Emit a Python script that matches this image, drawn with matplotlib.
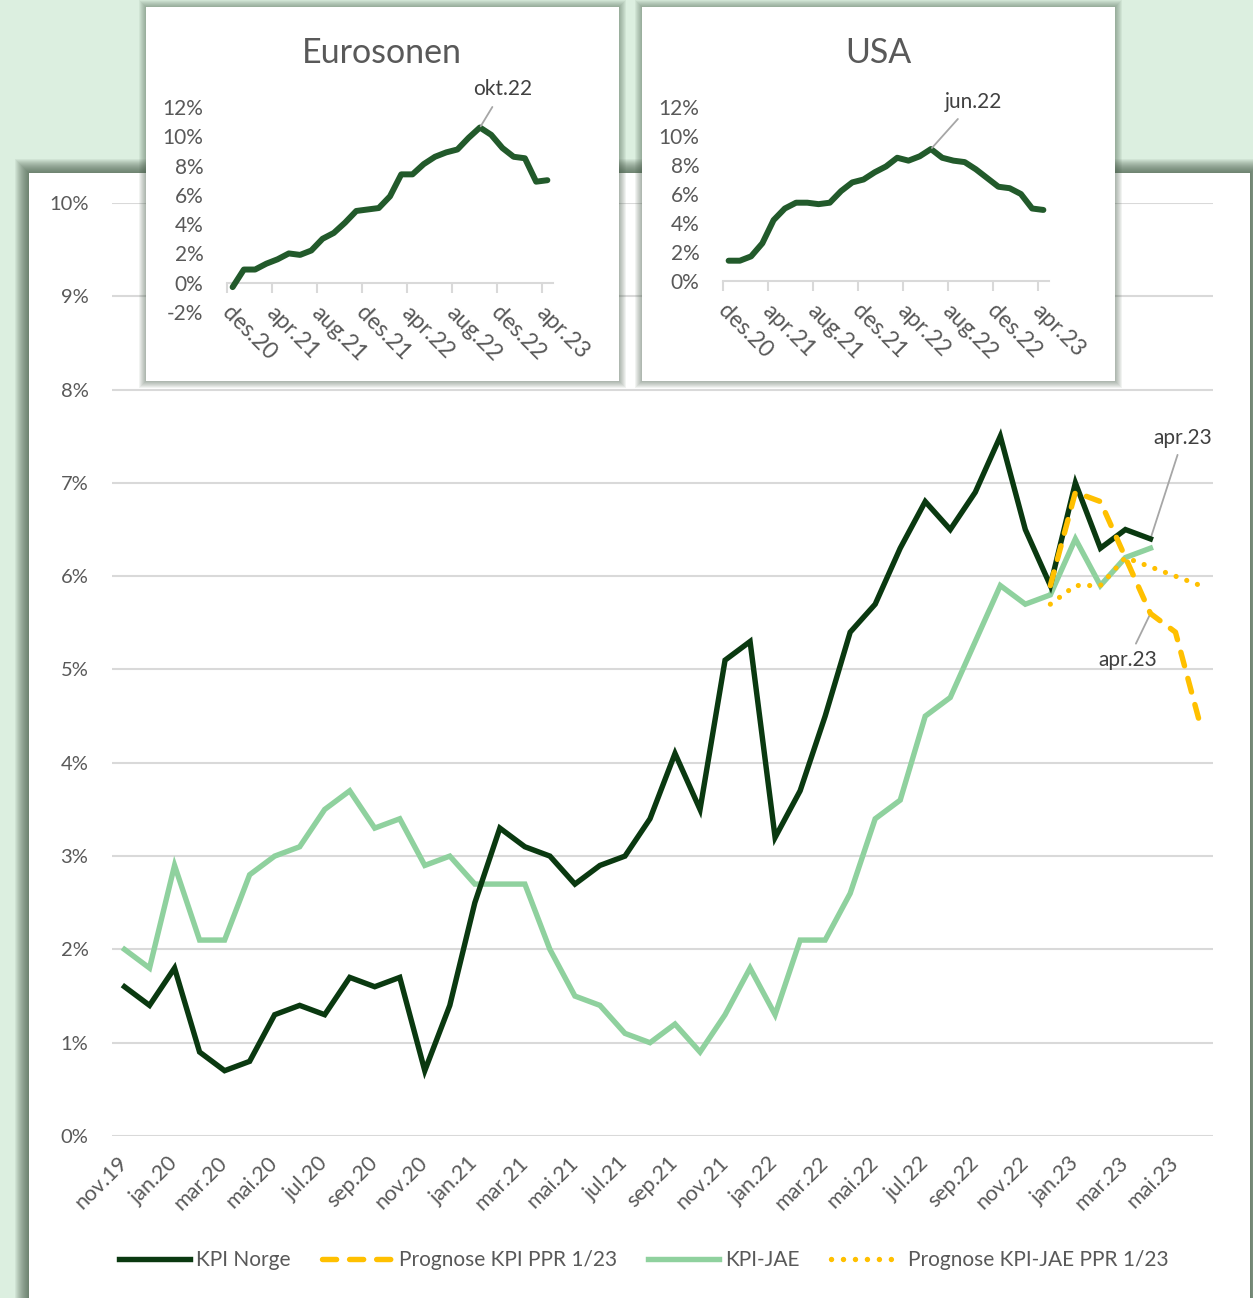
import matplotlib
matplotlib.use('Agg')
import matplotlib.pyplot as plt
from matplotlib.patches import Rectangle
from matplotlib.lines import Line2D

plt.rcParams['font.family'] = ['Lato', 'DejaVu Sans']

# ---------------- data ----------------
months = ['nov.19', 'des.19', 'jan.20', 'feb.20', 'mar.20', 'apr.20', 'mai.20', 'jun.20',
          'jul.20', 'aug.20', 'sep.20', 'okt.20', 'nov.20', 'des.20', 'jan.21', 'feb.21',
          'mar.21', 'apr.21', 'mai.21', 'jun.21', 'jul.21', 'aug.21', 'sep.21', 'okt.21',
          'nov.21', 'des.21', 'jan.22', 'feb.22', 'mar.22', 'apr.22', 'mai.22', 'jun.22',
          'jul.22', 'aug.22', 'sep.22', 'okt.22', 'nov.22', 'des.22', 'jan.23', 'feb.23',
          'mar.23', 'apr.23', 'mai.23', 'jun.23']

kpi_norge = [1.6, 1.4, 1.8, 0.9, 0.7, 0.8, 1.3, 1.4, 1.3, 1.7, 1.6, 1.7, 0.7, 1.4,
             2.5, 3.3, 3.1, 3.0, 2.7, 2.9, 3.0, 3.4, 4.1, 3.5, 5.1, 5.3, 3.2, 3.7,
             4.5, 5.4, 5.7, 6.3, 6.8, 6.5, 6.9, 7.5, 6.5, 5.9, 7.0, 6.3, 6.5, 6.4]

kpi_jae = [2.0, 1.8, 2.9, 2.1, 2.1, 2.8, 3.0, 3.1, 3.5, 3.7, 3.3, 3.4, 2.9, 3.0,
           2.7, 2.7, 2.7, 2.0, 1.5, 1.4, 1.1, 1.0, 1.2, 0.9, 1.3, 1.8, 1.3, 2.1,
           2.1, 2.6, 3.4, 3.6, 4.5, 4.7, 5.3, 5.9, 5.7, 5.8, 6.4, 5.9, 6.2, 6.3]

forecast_months = ['des.22', 'jan.23', 'feb.23', 'mar.23', 'apr.23', 'mai.23', 'jun.23']
prognose_kpi = [5.9, 6.9, 6.8, 6.2, 5.6, 5.4, 4.4]
prognose_jae = [5.7, 5.9, 5.9, 6.2, 6.1, 6.0, 5.9]

inset_months = ['des.20', 'jan.21', 'feb.21', 'mar.21', 'apr.21', 'mai.21', 'jun.21',
                'jul.21', 'aug.21', 'sep.21', 'okt.21', 'nov.21', 'des.21', 'jan.22',
                'feb.22', 'mar.22', 'apr.22', 'mai.22', 'jun.22', 'jul.22', 'aug.22',
                'sep.22', 'okt.22', 'nov.22', 'des.22', 'jan.23', 'feb.23', 'mar.23',
                'apr.23']
eurosonen = [-0.3, 0.9, 0.9, 1.3, 1.6, 2.0, 1.9, 2.2, 3.0, 3.4, 4.1, 4.9, 5.0, 5.1,
             5.9, 7.4, 7.4, 8.1, 8.6, 8.9, 9.1, 9.9, 10.6, 10.1, 9.2, 8.6, 8.5, 6.9, 7.0]
usa = [1.4, 1.4, 1.7, 2.6, 4.2, 5.0, 5.4, 5.4, 5.3, 5.4, 6.2, 6.8, 7.0, 7.5,
       7.9, 8.5, 8.3, 8.6, 9.1, 8.5, 8.3, 8.2, 7.7, 7.1, 6.5, 6.4, 6.0, 5.0, 4.9]

main_yticks = [0, 1, 2, 3, 4, 5, 6, 7, 8, 9, 10]
euro_yticks = [-2, 0, 2, 4, 6, 8, 10, 12]
usa_yticks = [0, 2, 4, 6, 8, 10, 12]

# ---------------- styles ----------------
C_DARK = '#0a3910'
C_LIGHT = '#8fd19e'
C_GOLD = '#ffc000'
C_INSET = '#225a2b'
C_TEXT = '#595959'
C_GRID = '#d9d9d9'
C_LEADER = '#a6a6a6'
BG = '#dcefe0'
SHADOW = '#3f5541'

W, H = 1253, 1298
fig = plt.figure(figsize=(W / 100, H / 100), dpi=100, facecolor=BG)


def frac_rect(x0, y0, x1, y1):
    return [x0 / W, 1 - y1 / H, (x1 - x0) / W, (y1 - y0) / H]


def add_box(x0, y0, x1, y1, blur, z, alpha):
    for k in range(blur, 0, -1):
        fig.add_artist(Rectangle(((x0 - k) / W, 1 - (y1 + k) / H),
                                 (x1 - x0 + 2 * k) / W, (y1 - y0 + 2 * k) / H,
                                 transform=fig.transFigure, facecolor=SHADOW,
                                 edgecolor='none', alpha=alpha, zorder=z))
    fig.add_artist(Rectangle((x0 / W, 1 - y1 / H), (x1 - x0) / W, (y1 - y0) / H,
                             transform=fig.transFigure, facecolor='white',
                             edgecolor='none', zorder=z + 0.01))


# main panel and inset boxes
add_box(29, 173, 1250, 1320, 14, -3, 0.075)
add_box(146, 7, 619, 381, 7, 0.5, 0.07)
add_box(642, 7, 1115, 381, 7, 0.5, 0.07)

# ---------------- main chart ----------------
ax = fig.add_axes(frac_rect(112, 203, 1213, 1136), zorder=0)
ax.patch.set_visible(False)
x_hist = list(range(len(kpi_norge)))
x_fc = [months.index(m) for m in forecast_months]

lw = 3.9
ax.plot(x_hist, kpi_jae, color=C_LIGHT, lw=lw, solid_joinstyle='miter', zorder=3)
ax.plot(x_hist, kpi_norge, color=C_DARK, lw=lw, solid_joinstyle='miter', zorder=4)
dash_style = (0, (2.6, 2.4))
dot_style = (0, (0.01, 2.2))
ax.plot(x_fc, prognose_jae, color=C_GOLD, lw=lw * 0.95, linestyle=dot_style,
        dash_capstyle='round', zorder=5)
ax.plot(x_fc, prognose_kpi, color=C_GOLD, lw=lw, linestyle=dash_style,
        dash_capstyle='round', zorder=6)

ax.set_xlim(-0.5, len(months) - 0.5)
ax.set_ylim(0, 10)
ax.set_yticks(main_yticks)
ax.set_yticklabels([f'{v}%' for v in main_yticks])
tick_idx = list(range(0, 43, 2))
ax.set_xticks(tick_idx)
ax.set_xticklabels([months[i] for i in tick_idx])
ax.tick_params(axis='y', length=0, pad=17, labelsize=14.5, labelcolor=C_TEXT)
ax.tick_params(axis='x', length=0, pad=17, labelsize=15.5, labelcolor=C_TEXT)
for lab in ax.get_xticklabels():
    lab.set_rotation(45)
    lab.set_ha('right')
    lab.set_va('center')
    lab.set_rotation_mode('anchor')
ax.grid(axis='y', color=C_GRID, lw=1.5)
ax.set_axisbelow(True)
for s in ax.spines.values():
    s.set_visible(False)

i_apr = months.index('apr.23')
ax.annotate('apr.23', xy=(i_apr, kpi_norge[i_apr]), xytext=(42.3, 7.48),
            ha='center', va='center', fontsize=15, color='#404040',
            arrowprops=dict(arrowstyle='-', color=C_LEADER, lw=1.3, shrinkA=3, shrinkB=1))
ax.annotate('apr.23', xy=(i_apr, prognose_kpi[forecast_months.index('apr.23')]),
            xytext=(40.1, 5.10), ha='center', va='center', fontsize=15, color='#404040',
            arrowprops=dict(arrowstyle='-', color=C_LEADER, lw=1.3, shrinkA=3, shrinkB=1))

# legend
handles = [Line2D([], [], color=C_DARK, lw=lw),
           Line2D([], [], color=C_GOLD, lw=lw, linestyle=dash_style, dash_capstyle='round'),
           Line2D([], [], color=C_LIGHT, lw=lw),
           Line2D([], [], color=C_GOLD, lw=lw, linestyle=dot_style, dash_capstyle='round')]
labels = ['KPI Norge', 'Prognose KPI PPR 1/23', 'KPI-JAE', 'Prognose KPI-JAE PPR 1/23']
fig.legend(handles, labels, loc='center', bbox_to_anchor=(644 / W, 1 - 1260 / H),
           ncol=4, frameon=False, fontsize=15, handlelength=3.4, handletextpad=0.3,
           columnspacing=1.5, labelcolor=C_TEXT)


# ---------------- insets ----------------
def inset(x0, y0, x1, y1, values, yticks, title, title_xy, peak_label, text_xy):
    a = fig.add_axes(frac_rect(x0, y0, x1, y1), zorder=2)
    a.patch.set_visible(False)
    n = len(values)
    a.plot(range(n), values, color=C_INSET, lw=4.3, solid_joinstyle='round',
           solid_capstyle='round', zorder=3)
    a.set_xlim(-0.5, n - 0.5)
    a.set_ylim(yticks[0], yticks[-1])
    a.set_yticks(yticks)
    a.set_yticklabels([f'{v}%' for v in yticks])
    a.tick_params(axis='y', length=0, pad=17, labelsize=15, labelcolor=C_TEXT)
    for s in ['top', 'right', 'left']:
        a.spines[s].set_visible(False)
    a.spines['bottom'].set_position(('data', 0))
    a.spines['bottom'].set_color(C_GRID)
    a.spines['bottom'].set_linewidth(1.5)
    a.set_xticks([i - 0.5 for i in range(0, n, 4)])
    a.set_xticklabels([])
    a.set_xticks(list(range(0, n, 4)), minor=True)
    a.set_xticklabels([inset_months[i] for i in range(0, n, 4)], minor=True)
    a.tick_params(axis='x', which='major', length=7, width=1.5, color=C_GRID, direction='out')
    a.tick_params(axis='x', which='minor', length=0, pad=14, labelsize=16.5, labelcolor=C_TEXT)
    for lab in a.get_xticklabels(minor=True):
        lab.set_rotation(-45)
        lab.set_ha('left')
        lab.set_va('top')
        lab.set_rotation_mode('anchor')
    ip = inset_months.index(peak_label)
    a.annotate(peak_label, xy=(ip, values[ip]), xytext=text_xy, ha='center', va='center',
               fontsize=15, color='#404040', annotation_clip=False,
               arrowprops=dict(arrowstyle='-', color=C_LEADER, lw=1.3, shrinkA=4, shrinkB=1))
    fig.text(title_xy[0] / W, 1 - title_xy[1] / H, title, ha='center', va='center',
             fontsize=24.5, color=C_TEXT, zorder=5)
    return a


inset(227, 107, 553, 312, eurosonen, euro_yticks, 'Eurosonen', (382, 53), 'okt.22', (24.05, 13.2))
inset(723, 107, 1049, 281, usa, usa_yticks, 'USA', (878, 53), 'jun.22', (21.74, 12.34))

fig.savefig('out.png', dpi=100, facecolor=BG)
